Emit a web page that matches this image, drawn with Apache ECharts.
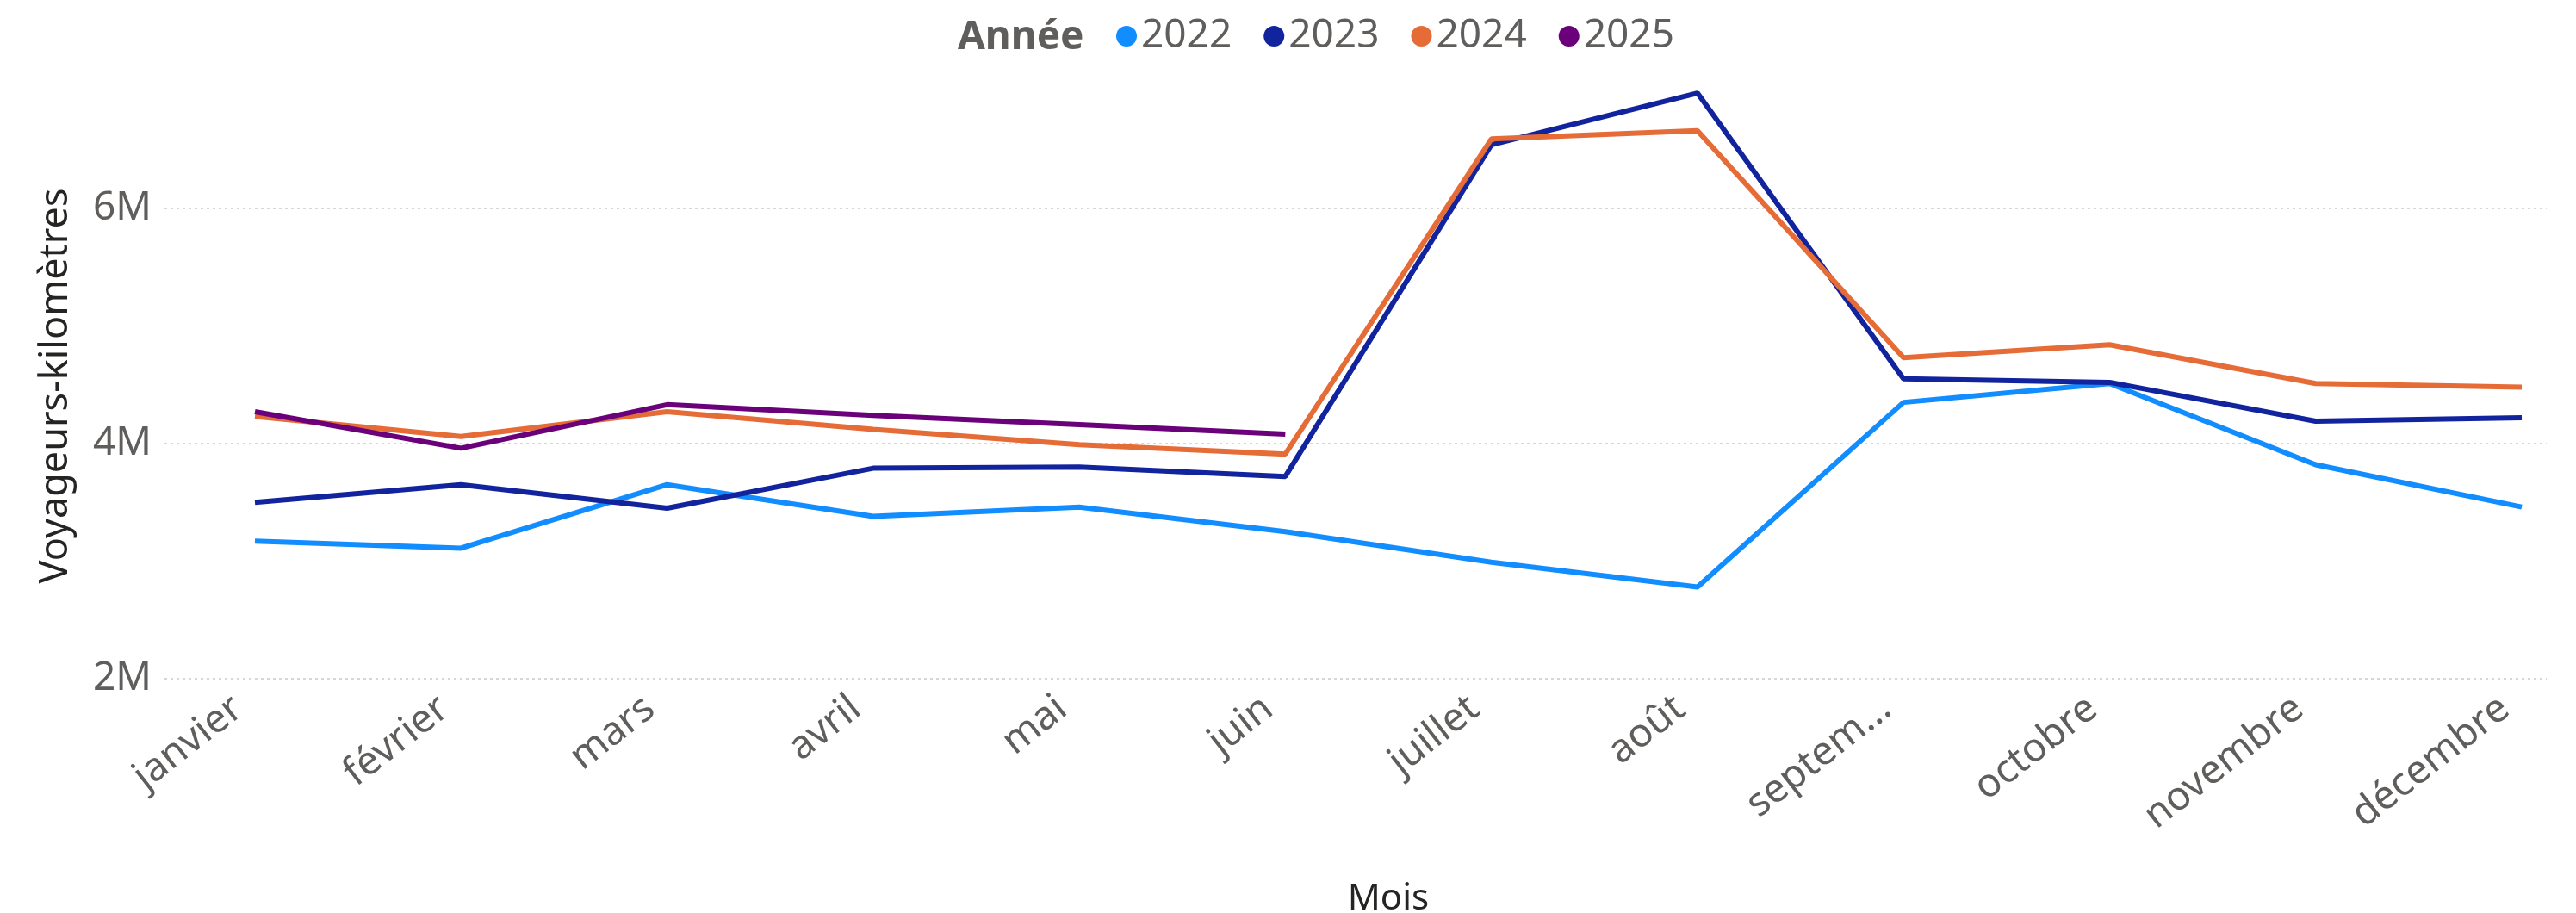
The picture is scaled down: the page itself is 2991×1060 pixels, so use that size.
<!DOCTYPE html>
<html>

<head>
    <meta charset="utf-8">
    <title>Voyageurs-kilomètres par mois</title>
    <script src="https://cdn.jsdelivr.net/npm/echarts@6.0.0/dist/echarts.min.js"></script>
    <style>
        body {
            margin: 0;
            background-color: #ffffff;
        }
    </style>
</head>

<body>
    <div id="main" style="width: 2991px;height:1060px;"></div>

    <script type="text/javascript">
        // données
        const mois = ['janvier', 'février', 'mars', 'avril', 'mai', 'juin',
            'juillet', 'août', 'septembre', 'octobre', 'novembre', 'décembre'];
        const annees = ['2022', '2023', '2024', '2025'];

        const v2022 = [3170000, 3110000, 3650000, 3380000, 3460000, 3250000,
            2990000, 2780000, 4350000, 4510000, 3820000, 3460000];
        const v2023 = [3500000, 3650000, 3450000, 3790000, 3800000, 3720000,
            6540000, 6980000, 4550000, 4520000, 4190000, 4220000];
        const v2024 = [4230000, 4060000, 4270000, 4120000, 3990000, 3910000,
            6590000, 6660000, 4730000, 4840000, 4510000, 4480000];
        const v2025 = [4270000, 3960000, 4330000, 4240000, 4160000, 4080000];

        const yMin = 2000000;
        const yMax = 7200000;
        const yStep = 2000000;

        const couleurs = ['#118DFF', '#12239E', '#E66C37', '#6B007B'];
        const valeurs = [v2022, v2023, v2024, v2025];

        const police = '"Noto Sans", "Open Sans", sans-serif';

        var myChart = echarts.init(document.getElementById('main'));

        var option = {
            backgroundColor: '#ffffff',
            color: couleurs,
            textStyle: { fontFamily: police },
            graphic: {
                elements: [{
                    type: 'text',
                    x: 1112,
                    y: 44,
                    style: {
                        text: 'Année',
                        fill: '#605E5C',
                        fontSize: 46,
                        fontWeight: 'bold',
                        fontFamily: police,
                        verticalAlign: 'middle'
                    }
                }]
            },
            legend: {
                data: annees,
                left: 1291,
                top: 14,
                icon: 'circle',
                itemWidth: 24,
                itemHeight: 24,
                itemGap: 37,
                textStyle: { fontSize: 46, color: '#605E5C', fontFamily: police }
            },
            grid: [
                // grille large : quadrillage et étiquettes de l'axe Y
                { left: 191, right: 34, top: 78, bottom: 272, outerBoundsMode: 'none' },
                // grille des séries
                { left: 296, right: 63, top: 78, bottom: 272, outerBoundsMode: 'none' }
            ],
            xAxis: [
                {
                    gridIndex: 0,
                    type: 'category',
                    data: mois,
                    show: false
                },
                {
                    gridIndex: 1,
                    type: 'category',
                    data: mois,
                    boundaryGap: false,
                    axisLine: { show: false },
                    axisTick: { show: false },
                    splitLine: { show: false },
                    axisLabel: {
                        rotate: 38,
                        margin: 14,
                        padding: [0, 25, 0, 0],
                        fontSize: 46,
                        color: '#605E5C',
                        interval: 0,
                        formatter: function (m) {
                            return m.length > 8 ? m.slice(0, 6) + '...' : m;
                        }
                    },
                    name: 'Mois',
                    nameLocation: 'middle',
                    nameGap: 235,
                    nameTextStyle: { fontSize: 42, color: '#252423' }
                }
            ],
            yAxis: [
                {
                    gridIndex: 0,
                    type: 'value',
                    min: yMin,
                    max: yMax,
                    interval: yStep,
                    axisLine: { show: false },
                    axisTick: { show: false },
                    axisLabel: {
                        fontSize: 46,
                        color: '#605E5C',
                        margin: 15,
                        showMaxLabel: false,
                        formatter: function (v) { return v / 1000000 + 'M'; }
                    },
                    splitLine: {
                        show: true,
                        showMaxLine: false,
                        lineStyle: { color: '#D6D6D6', type: [3, 4], width: 2 }
                    },
                    name: 'Voyageurs-kilomètres',
                    nameLocation: 'middle',
                    nameGap: 103,
                    nameTextStyle: { fontSize: 45, color: '#252423', padding: [0, 30, 0, 0] }
                },
                {
                    gridIndex: 1,
                    type: 'value',
                    min: yMin,
                    max: yMax,
                    show: false
                }
            ],
            series: annees.map((a, i) => ({
                name: a,
                type: 'line',
                xAxisIndex: 1,
                yAxisIndex: 1,
                data: valeurs[i],
                showSymbol: false,
                lineStyle: { width: 6, color: couleurs[i] },
                itemStyle: { color: couleurs[i] }
            }))
        };

        myChart.setOption(option);
    </script>
</body>

</html>
